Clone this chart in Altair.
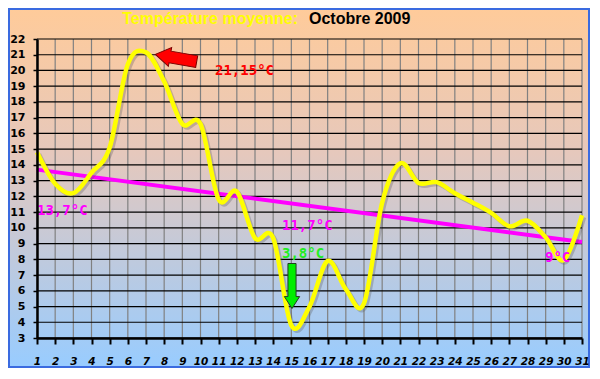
import altair as alt
import pandas as pd

# ---- data ----
days = list(range(1, 32))
temps = [14.8, 12.8, 12.2, 13.5, 15.1, 20.4, 21.15, 19.3, 16.6, 16.6,
         11.8, 12.3, 9.35, 9.35, 3.8, 5.0, 7.9, 6.1, 5.2, 11.6,
         14.1, 12.85, 12.9, 12.2, 11.6, 10.95, 10.1, 10.45, 9.4, 7.95, 10.8]
trend_days = [1, 31]
trend_temps = [13.7, 9.1]
y_ticks = list(range(3, 23))

title_left = "Température moyenne:"
title_right = "Octobre 2009"
annotations = ["21,15°C", "13,7°C", "11,7°C", "3,8°C", "9°C"]

W, H = 545, 299

df = pd.DataFrame({"day": days, "temp": temps})
trend_df = pd.DataFrame({"day": trend_days, "temp": trend_temps})
vgrid_df = pd.DataFrame({"day": days})
hgrid_df = pd.DataFrame({"temp": y_ticks})
one = alt.Data(values=[{"k": 1}])

xscale = alt.Scale(domain=[1, 31], nice=False, zero=False)
yscale = alt.Scale(domain=[3, 22], nice=False, zero=False)

xaxis = alt.Axis(values=days, title=None, grid=False, domainColor="black",
                 domainWidth=2.5, tickColor="black", tickWidth=2, tickSize=6,
                 labelFont="DejaVu Sans", labelFontWeight="bold",
                 labelFontStyle="oblique", labelFontSize=10.5, labelColor="black",
                 labelPadding=12, labelAngle=0, labelFlush=False,
                 labelOverlap=False, zindex=1)
yaxis = alt.Axis(values=y_ticks, title=None, grid=False, domainColor="black",
                 domainWidth=2.5, tickColor="black", tickWidth=1.5, tickSize=4,
                 labelFont="DejaVu Sans", labelFontWeight="bold",
                 labelFontSize=11, labelColor="black", labelPadding=8,
                 labelOverlap=False, zindex=1)

X = alt.X("day:Q", scale=xscale, axis=xaxis)
Y = alt.Y("temp:Q", scale=yscale, axis=yaxis)

bg = alt.Chart(one).mark_rect(
    fill=alt.LinearGradient(
        gradient="linear",
        stops=[alt.GradientStop(color="#FFCB9A", offset=0),
               alt.GradientStop(color="#E6C8BC", offset=0.4),
               alt.GradientStop(color="#98CCFF", offset=1)],
        x1=0, x2=0, y1=0, y2=1),
    stroke="#3A6BE0", strokeWidth=2,
).encode(x=alt.value(-28), x2=alt.value(W + 7), y=alt.value(-30), y2=alt.value(H + 29))

vgrid = alt.Chart(vgrid_df).mark_rule(color="#808080", strokeWidth=1.2).encode(x=X)
hgrid = alt.Chart(hgrid_df).mark_rule(color="#000000", strokeWidth=1.2).encode(y=Y)

trend = alt.Chart(trend_df).mark_line(color="#FF00FF", strokeWidth=4).encode(x=X, y=Y)

shadow = alt.Chart(df).mark_line(
    color="#555555", opacity=0.3, strokeWidth=4.5, interpolate="cardinal", tension=0,
    xOffset=2, yOffset=2).encode(x=X, y=Y)
line = alt.Chart(df).mark_line(
    color="#FFFF00", strokeWidth=4.5, interpolate="cardinal", tension=0).encode(x=X, y=Y)

red_arrow = alt.Chart(one).mark_point(
    shape="M-1,0 L-0.29,-0.45 L-0.29,-0.28 L1,-0.28 L1,0.28 L-0.29,0.28 L-0.29,0.45 Z",
    filled=True, fill="#FF0000", stroke="#7A0000", strokeWidth=1, opacity=1,
    size=1764, angle=10,
).encode(x=alt.value(139), y=alt.value(19))

green_arrow = alt.Chart(one).mark_point(
    shape="M-0.18,-1 L0.18,-1 L0.18,0.47 L0.34,0.47 L0,1 L-0.34,0.47 L-0.18,0.47 Z",
    filled=True, fill="#00EE00", stroke="#204020", strokeWidth=1, opacity=1,
    size=2025,
).encode(x=alt.value(255), y=alt.value(247))

title_font = dict(font="Liberation Sans", fontWeight="bold", fontSize=16, baseline="alphabetic")
t1 = alt.Chart(one).mark_text(text=title_left, color="#FFFF00", align="right", **title_font
                              ).encode(x=alt.value(261), y=alt.value(-15))
t2 = alt.Chart(one).mark_text(text=title_right, color="#000000", align="left", **title_font
                              ).encode(x=alt.value(272), y=alt.value(-15))

ann_font = dict(font="DejaVu Sans Mono", fontWeight="bold", fontSize=14,
                align="left", baseline="alphabetic")
a1 = alt.Chart(one).mark_text(text=annotations[0], color="#FF0000", **ann_font
                              ).encode(x=alt.value(178), y=alt.value(36))
a2 = alt.Chart(one).mark_text(text=annotations[1], color="#FF00FF", **ann_font
                              ).encode(x=alt.value(0), y=alt.value(176))
a3 = alt.Chart(one).mark_text(text=annotations[2], color="#FF00FF", **ann_font
                              ).encode(x=alt.value(245), y=alt.value(191))
a4 = alt.Chart(one).mark_text(text=annotations[3], color="#22EE22", **ann_font
                              ).encode(x=alt.value(245), y=alt.value(219))
a5 = alt.Chart(one).mark_text(text=annotations[4], color="#FF00FF", **ann_font
                              ).encode(x=alt.value(508), y=alt.value(223))

chart = alt.layer(
    bg, vgrid, hgrid, trend, shadow, line, red_arrow, green_arrow,
    t1, t2, a1, a2, a3, a4, a5
).properties(
    width=W, height=H,
    autosize=alt.AutoSizeParams(type="none"),
    padding={"left": 29, "top": 31, "right": 8, "bottom": 30},
    background="white",
).configure_view(stroke=None)

chart.save("out.html", embed_options={"renderer": "svg", "actions": False})
